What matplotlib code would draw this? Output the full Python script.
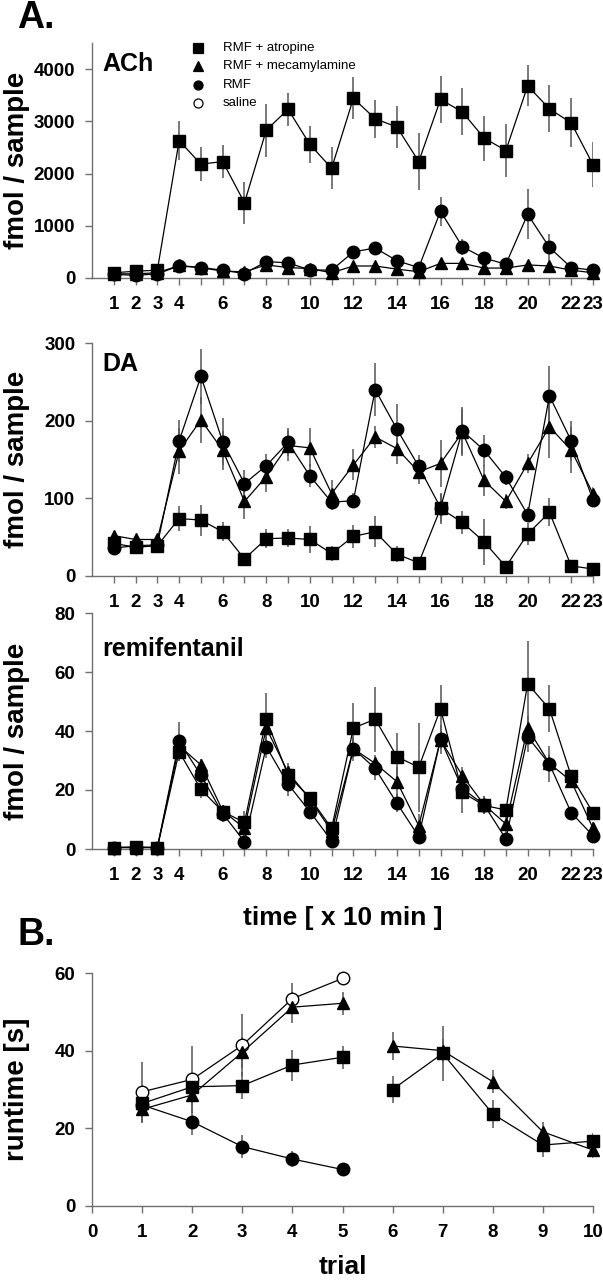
import numpy as np
import matplotlib
matplotlib.use("Agg")
from matplotlib import pyplot as plt

plt.rcParams['font.family'] = ['Liberation Sans', 'DejaVu Sans']

# time points (x 10 min)
t = np.arange(1, 24)
t_labels = ['1', '2', '3', '4', '', '6', '', '8', '', '10', '', '12', '', '14', '',
            '16', '', '18', '', '20', '', '22', '23']

# ACh (fmol / sample)
ach_atr = [100, 130, 150, 2630, 2180, 2230, 1440, 2830, 3230, 2560, 2100, 3440,
           3050, 2890, 2230, 3420, 3180, 2680, 2440, 3680, 3240, 2970, 2170]
ach_atr_err = [40, 40, 50, 370, 320, 320, 400, 510, 320, 350, 400, 400,
               360, 400, 540, 450, 450, 430, 500, 390, 450, 470, 430]
ach_mec = [80, 80, 100, 240, 200, 130, 120, 250, 200, 180, 100, 230,
           230, 170, 120, 280, 280, 190, 190, 250, 230, 150, 100]
ach_mec_err = [30, 30, 30, 50, 40, 40, 80, 40, 40, 60, 40, 40,
               40, 40, 40, 50, 50, 40, 40, 50, 50, 30, 30]
ach_rmf = [70, 50, 80, 230, 200, 150, 85, 315, 290, 155, 150, 500,
           575, 330, 200, 1280, 600, 380, 265, 1220, 585, 200, 150]
ach_rmf_err = [30, 20, 30, 60, 50, 40, 30, 60, 60, 40, 40, 60,
               50, 80, 80, 280, 150, 80, 60, 480, 250, 50, 40]

# DA (fmol / sample)
da_atr = [42, 37, 39, 74, 72, 57, 22, 48, 49, 47, 29, 51,
          57, 28, 17, 87, 69, 44, 12, 54, 82, 13, 9]
da_atr_err = [5, 5, 5, 16, 20, 12, 7, 12, 12, 17, 10, 15,
              20, 10, 7, 20, 15, 30, 4, 14, 18, 4, 3]
da_mec = [52, 47, 47, 161, 201, 162, 96, 128, 168, 165, 106, 143,
          179, 164, 134, 145, 185, 123, 96, 145, 192, 162, 106]
da_mec_err = [6, 5, 5, 30, 30, 25, 22, 20, 20, 25, 18, 20,
              14, 20, 15, 30, 30, 20, 10, 12, 40, 30, 8]
da_rmf = [36, 39, 40, 174, 257, 173, 119, 142, 172, 129, 95, 97,
          240, 189, 141, 88, 187, 162, 127, 79, 232, 174, 98]
da_rmf_err = [5, 5, 5, 27, 35, 30, 18, 15, 18, 15, 10, 10,
              34, 32, 15, 18, 30, 20, 10, 10, 38, 26, 8]

# remifentanil (fmol / sample)
rm_atr = [0.5, 0.7, 0.5, 33, 20.2, 12.7, 9, 44, 25, 17.4, 7, 41,
          44, 31.3, 27.7, 47.5, 19.2, 14.8, 13.2, 56, 47.5, 24.7, 12.3]
rm_atr_err = [0.5, 0.5, 0.5, 3, 3, 2, 4, 9, 3, 2, 2, 8.5,
              11, 8, 15, 8, 7, 2, 2, 14.5, 8, 2, 1.5]
rm_mec = [0.5, 0.5, 0.5, 35, 28.5, 13, 7, 41, 26, 17, 6, 34,
          29, 22.8, 7.9, 37, 24.9, 15, 8.5, 41, 29, 23, 7]
rm_mec_err = [0.5, 0.5, 0.5, 4, 2, 2, 3, 4, 3, 2, 2, 3,
              3, 5, 4, 3, 3, 3, 3, 4, 3, 2, 2]
rm_rmf = [0.5, 0.5, 0.5, 36.5, 25, 12, 2.5, 34.7, 22, 12.7, 2.8, 34,
          27.3, 15.5, 4.2, 37.2, 20.5, 15, 3.4, 38, 28.8, 12.3, 4.5]
rm_rmf_err = [2, 0.5, 0.5, 6.5, 3, 3, 1, 4, 4, 2, 1, 4,
              4, 3, 1, 5, 3, 3, 1, 5, 6, 2, 1]

# B. runtime [s] per trial
trial = np.arange(1, 11)
b_sal = [29.4, 32.6, 41.4, 53.4, 58.6]
b_sal_err = [7.8, 8.6, 8, 4, 0.5]
b_rmf = [26, 21.7, 15.3, 12.1, 9.4]
b_rmf_err = [3, 3.5, 3, 2, 1]
b_mec = [24.9, 28.6, 39.6, 51.2, 52.2, 41.2, 40, 32, 19.1, 14.4]
b_mec_err = [3.5, 3, 4, 4, 3, 3.5, 3, 3, 2.5, 2]
b_atr = [26.4, 30.7, 31, 36.3, 38.3, 30, 39.3, 23.7, 15.7, 16.7]
b_atr_err = [3, 3, 3.5, 4, 3, 3.5, 7, 3.5, 3, 2]

AX_COL = '#707070'
ERR_COL = '#555555'


def style_axes(ax):
    for s in ['top', 'right']:
        ax.spines[s].set_visible(False)
    for s in ['left', 'bottom']:
        ax.spines[s].set_color(AX_COL)
        ax.spines[s].set_linewidth(1.0)
    ax.tick_params(direction='out', length=5, width=1.0, color=AX_COL,
                   labelsize=13.5)
    ax.tick_params(axis='y', pad=7)
    ax.tick_params(axis='x', pad=8)
    for lab in ax.get_xticklabels() + ax.get_yticklabels():
        lab.set_fontweight('bold')


def series(ax, x, y, err, marker, face='black', ms=8.5):
    ax.errorbar(x, y, yerr=err, fmt='none', ecolor=ERR_COL, elinewidth=1.1,
                capsize=0, zorder=2)
    ax.plot(x, y, color='black', lw=0.9, marker=marker, ms=ms,
            mfc=face, mec='black', mew=1.0, zorder=3, clip_on=False)


fig = plt.figure(figsize=(6.03, 12.8), dpi=100)
W, H = 603.0, 1280.0


def make_ax(top_px, bottom_px):
    return fig.add_axes([92 / W, 1 - bottom_px / H, 501 / W, (bottom_px - top_px) / H])


def ylab(ax, text):
    ax.set_ylabel(text, fontsize=20, fontweight='bold')
    ax.yaxis.set_label_coords(-62 / 501, 0.5)


panels = [
    (make_ax(43, 278), 'ACh', 4500, [0, 1000, 2000, 3000, 4000],
     ach_atr, ach_atr_err, ach_mec, ach_mec_err, ach_rmf, ach_rmf_err),
    (make_ax(343, 576), 'DA', 300, [0, 100, 200, 300],
     da_atr, da_atr_err, da_mec, da_mec_err, da_rmf, da_rmf_err),
    (make_ax(613, 849), 'remifentanil', 80, [0, 20, 40, 60, 80],
     rm_atr, rm_atr_err, rm_mec, rm_mec_err, rm_rmf, rm_rmf_err),
]

for ax, name, ymax, yt, a, ae, m, me, r, re_ in panels:
    series(ax, t, a, ae, 's', ms=8.5)
    series(ax, t, m, me, '^', ms=9)
    series(ax, t, r, re_, 'o', ms=9)
    ax.set_xlim(0, 23)
    ax.set_ylim(0, ymax)
    ax.set_xticks(t)
    ax.set_xticklabels(t_labels)
    ax.set_yticks(yt)
    style_axes(ax)
    ylab(ax, 'fmol / sample')
    ax.text(0.02, 0.96 if name != 'remifentanil' else 0.90, name,
            transform=ax.transAxes, fontsize=18, fontweight='bold',
            va='top', ha='left')

leg_items = [('s', 'black', 'RMF + atropine'), ('^', 'black', 'RMF + mecamylamine'),
             ('o', 'black', 'RMF'), ('o', 'white', 'saline')]
for i, (mk, fc, lab) in enumerate(leg_items):
    yy = 1 - (48 + i * 18.3) / H
    fig.lines.append(plt.Line2D([198 / W], [yy], marker=mk, ms=6.5, mfc=fc,
                                mec='black', mew=0.9, ls='none',
                                transform=fig.transFigure))
    fig.text(223 / W, yy, lab, fontsize=9.5, va='center', ha='left')

panels[2][0].set_xlabel('time [ x 10 min ]', fontsize=19, fontweight='bold',
                        labelpad=16)

# B. runtime
axb = make_ax(973, 1206)
series(axb, trial[:5], b_sal, b_sal_err, 'o', face='white', ms=9)
series(axb, trial[:5], b_mec[:5], b_mec_err[:5], '^', ms=9)
series(axb, trial[5:], b_mec[5:], b_mec_err[5:], '^', ms=9)
series(axb, trial[:5], b_atr[:5], b_atr_err[:5], 's', ms=8.5)
series(axb, trial[5:], b_atr[5:], b_atr_err[5:], 's', ms=8.5)
series(axb, trial[:5], b_rmf, b_rmf_err, 'o', ms=9)
axb.set_xlim(0, 10)
axb.set_ylim(0, 60)
axb.set_xticks(np.arange(0, 11))
axb.set_yticks([0, 20, 40, 60])
style_axes(axb)
ylab(axb, 'runtime [s]')
axb.set_xlabel('trial', fontsize=19, fontweight='bold', labelpad=10)

fig.text(17 / W, 1 - 18 / H, 'A.', fontsize=27, fontweight='bold', va='center', ha='left')
fig.text(17 / W, 1 - 935 / H, 'B.', fontsize=27, fontweight='bold', va='center', ha='left')

fig.savefig('out.png', dpi=100)
